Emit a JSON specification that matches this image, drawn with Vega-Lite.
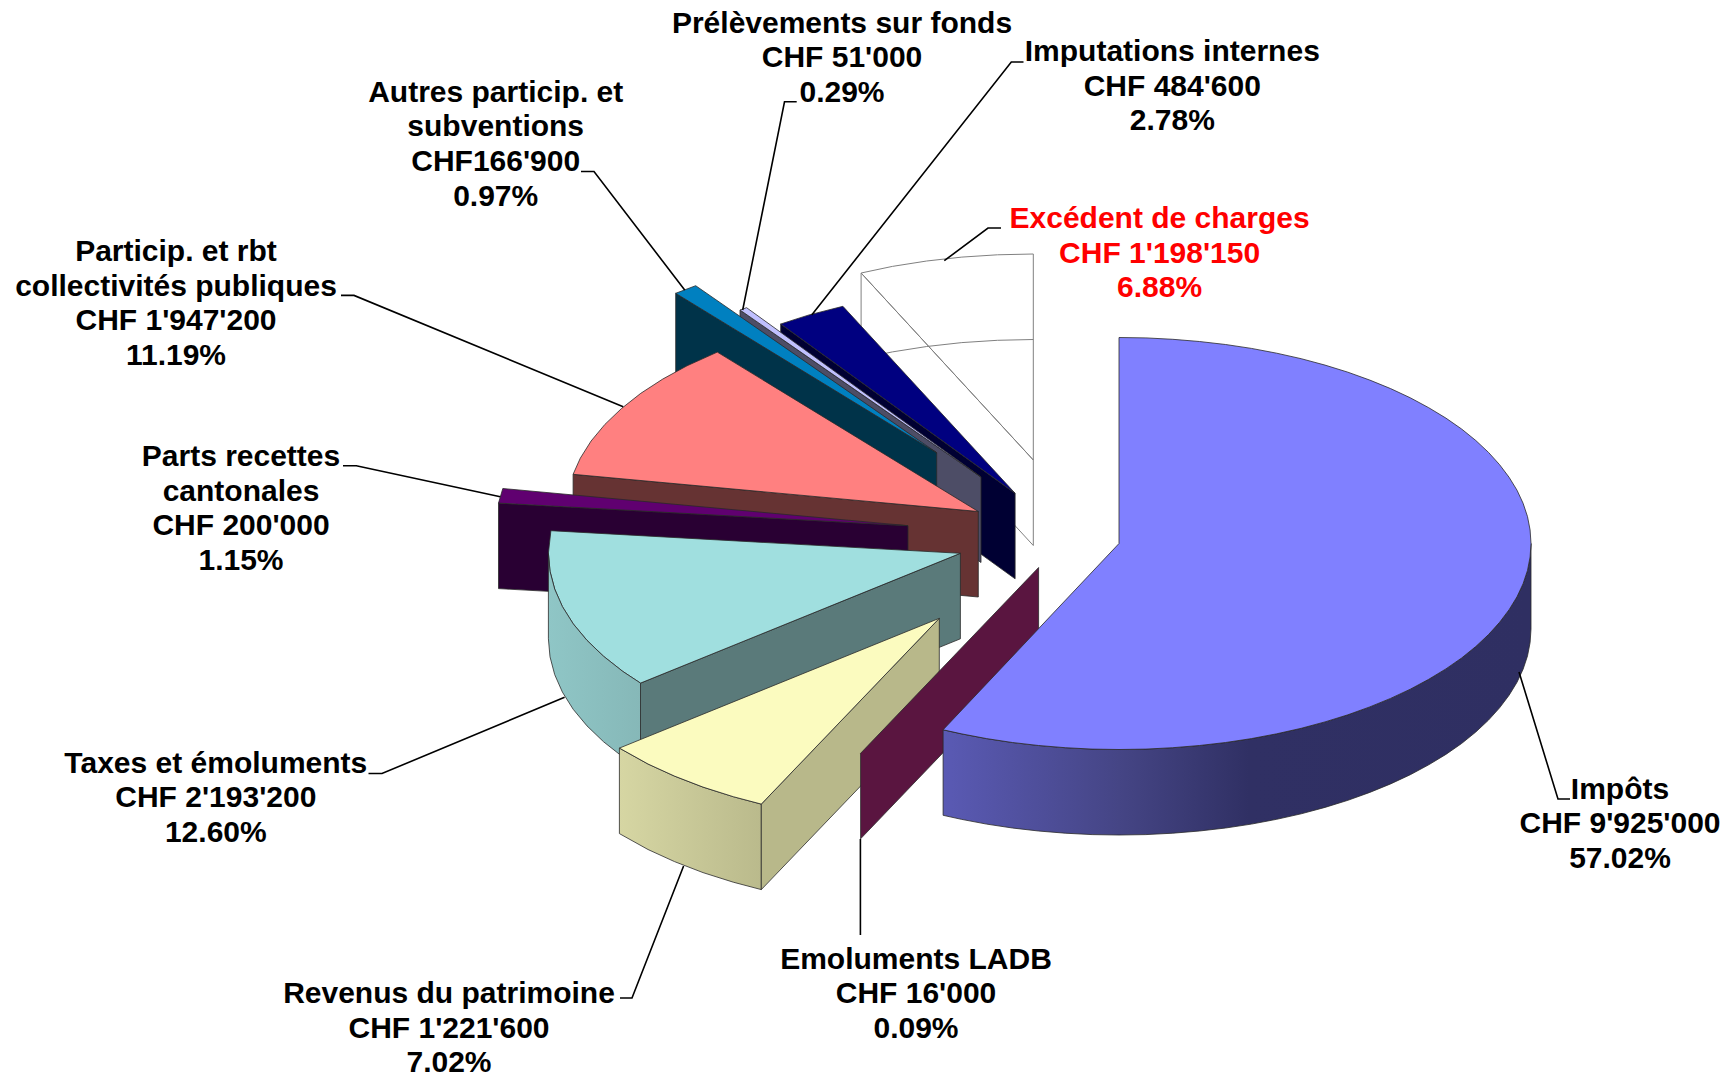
{
"$schema":"https://vega.github.io/schema/vega-lite/v6.json",
"width":1735,"height":1078,"padding":0,"autosize":{"type":"none"},
"background":"#ffffff",
"config":{"view":{"stroke":null}},
"datasets":{
"excedent":[
{"piece":"Excédent coupe","i":0,"x":861.1,"y":273},{"piece":"Excédent coupe","i":1,"x":861.1,"y":358.5},{"piece":"Excédent coupe","i":2,"x":1033.3,"y":545.5},{"piece":"Excédent coupe","i":3,"x":1033.3,"y":460},{"piece":"Excédent coupe","i":4,"x":861.1,"y":273},
{"piece":"Excédent dessus","i":0,"x":1033.3,"y":460},{"piece":"Excédent dessus","i":1,"x":861.1,"y":273},{"piece":"Excédent dessus","i":2,"x":892.4,"y":266.4},{"piece":"Excédent dessus","i":3,"x":926.7,"y":261},{"piece":"Excédent dessus","i":4,"x":961.8,"y":257.1},{"piece":"Excédent dessus","i":5,"x":997.4,"y":254.8},{"piece":"Excédent dessus","i":6,"x":1033.3,"y":254},{"piece":"Excédent dessus","i":7,"x":1033.3,"y":460},
{"piece":"Excédent côté","i":0,"x":861.1,"y":358.5},{"piece":"Excédent côté","i":1,"x":892.4,"y":351.9},{"piece":"Excédent côté","i":2,"x":926.7,"y":346.5},{"piece":"Excédent côté","i":3,"x":961.8,"y":342.6},{"piece":"Excédent côté","i":4,"x":997.4,"y":340.3},{"piece":"Excédent côté","i":5,"x":1033.3,"y":339.5}
],
"faces_arriere":[
{"piece":"Imputations coupe","i":0,"x":780.7,"y":324},{"piece":"Imputations coupe","i":1,"x":1015.1,"y":493.3},{"piece":"Imputations coupe","i":2,"x":1015.1,"y":578.8},{"piece":"Imputations coupe","i":3,"x":780.7,"y":409.5},{"piece":"Imputations coupe","i":4,"x":780.7,"y":324},
{"piece":"Imputations dessus","i":0,"x":1015.1,"y":493.3},{"piece":"Imputations dessus","i":1,"x":780.7,"y":324},{"piece":"Imputations dessus","i":2,"x":809.1,"y":314.9},{"piece":"Imputations dessus","i":3,"x":842.9,"y":306.3},{"piece":"Imputations dessus","i":4,"x":1015.1,"y":493.3},
{"piece":"Prélèvements coupe","i":0,"x":740,"y":310},{"piece":"Prélèvements coupe","i":1,"x":981,"y":477},{"piece":"Prélèvements coupe","i":2,"x":981,"y":562.5},{"piece":"Prélèvements coupe","i":3,"x":740,"y":395.5},{"piece":"Prélèvements coupe","i":4,"x":740,"y":310},
{"piece":"Prélèvements dessus","i":0,"x":981,"y":477},{"piece":"Prélèvements dessus","i":1,"x":740,"y":310},{"piece":"Prélèvements dessus","i":2,"x":746.6,"y":307.7},{"piece":"Prélèvements dessus","i":3,"x":981,"y":477},
{"piece":"Autres coupe","i":0,"x":675.7,"y":293.3},{"piece":"Autres coupe","i":1,"x":936.7,"y":452.7},{"piece":"Autres coupe","i":2,"x":936.7,"y":538.2},{"piece":"Autres coupe","i":3,"x":675.7,"y":378.8},{"piece":"Autres coupe","i":4,"x":675.7,"y":293.3},
{"piece":"Autres dessus","i":0,"x":936.7,"y":452.7},{"piece":"Autres dessus","i":1,"x":675.7,"y":293.3},{"piece":"Autres dessus","i":2,"x":695.7,"y":285.7},{"piece":"Autres dessus","i":3,"x":936.7,"y":452.7},
{"piece":"Particip coupe","i":0,"x":573.1,"y":474.3},{"piece":"Particip coupe","i":1,"x":978.3,"y":511.5},{"piece":"Particip coupe","i":2,"x":978.3,"y":597},{"piece":"Particip coupe","i":3,"x":573.1,"y":559.8},{"piece":"Particip coupe","i":4,"x":573.1,"y":474.3},
{"piece":"Particip dessus","i":0,"x":978.3,"y":511.5},{"piece":"Particip dessus","i":1,"x":573.1,"y":474.3},{"piece":"Particip dessus","i":2,"x":580.3,"y":458.2},{"piece":"Particip dessus","i":3,"x":591.1,"y":441},{"piece":"Particip dessus","i":4,"x":604.9,"y":424.4},{"piece":"Particip dessus","i":5,"x":621.5,"y":408.5},{"piece":"Particip dessus","i":6,"x":640.8,"y":393.3},{"piece":"Particip dessus","i":7,"x":662.7,"y":379.1},{"piece":"Particip dessus","i":8,"x":687,"y":365.8},{"piece":"Particip dessus","i":9,"x":717.3,"y":352.1},{"piece":"Particip dessus","i":10,"x":978.3,"y":511.5},
{"piece":"Parts coupe","i":0,"x":498.5,"y":503.1},{"piece":"Parts coupe","i":1,"x":908,"y":525.7},{"piece":"Parts coupe","i":2,"x":908,"y":611.2},{"piece":"Parts coupe","i":3,"x":498.5,"y":588.6},{"piece":"Parts coupe","i":4,"x":498.5,"y":503.1},
{"piece":"Parts dessus","i":0,"x":908,"y":525.7},{"piece":"Parts dessus","i":1,"x":498.5,"y":503.1},{"piece":"Parts dessus","i":2,"x":502.8,"y":488.5},{"piece":"Parts dessus","i":3,"x":908,"y":525.7},
{"piece":"Taxes coupe","i":0,"x":640.5,"y":683.1},{"piece":"Taxes coupe","i":1,"x":960.4,"y":553.3},{"piece":"Taxes coupe","i":2,"x":960.4,"y":638.8},{"piece":"Taxes coupe","i":3,"x":640.5,"y":768.6},{"piece":"Taxes coupe","i":4,"x":640.5,"y":683.1},
{"piece":"Taxes dessus","i":0,"x":960.4,"y":553.3},{"piece":"Taxes dessus","i":1,"x":640.5,"y":683.1},{"piece":"Taxes dessus","i":2,"x":622.9,"y":671.5},{"piece":"Taxes dessus","i":3,"x":603.6,"y":656.3},{"piece":"Taxes dessus","i":4,"x":587,"y":640.4},{"piece":"Taxes dessus","i":5,"x":573.2,"y":623.8},{"piece":"Taxes dessus","i":6,"x":562.4,"y":606.6},{"piece":"Taxes dessus","i":7,"x":554.7,"y":589.1},{"piece":"Taxes dessus","i":8,"x":550,"y":571.3},{"piece":"Taxes dessus","i":9,"x":548.4,"y":553.3},{"piece":"Taxes dessus","i":10,"x":550.9,"y":530.7},{"piece":"Taxes dessus","i":11,"x":960.4,"y":553.3}
],
"cote_taxes":[
{"piece":"Taxes côté","i":0,"x":640.5,"y":683.1},{"piece":"Taxes côté","i":1,"x":622.9,"y":671.5},{"piece":"Taxes côté","i":2,"x":603.6,"y":656.3},{"piece":"Taxes côté","i":3,"x":587,"y":640.4},{"piece":"Taxes côté","i":4,"x":573.2,"y":623.8},{"piece":"Taxes côté","i":5,"x":562.4,"y":606.6},{"piece":"Taxes côté","i":6,"x":554.7,"y":589.1},{"piece":"Taxes côté","i":7,"x":550,"y":571.3},{"piece":"Taxes côté","i":8,"x":548.4,"y":553.3},{"piece":"Taxes côté","i":9,"x":548.4,"y":638.8},{"piece":"Taxes côté","i":10,"x":550,"y":656.8},{"piece":"Taxes côté","i":11,"x":554.7,"y":674.6},{"piece":"Taxes côté","i":12,"x":562.4,"y":692.1},{"piece":"Taxes côté","i":13,"x":573.2,"y":709.3},{"piece":"Taxes côté","i":14,"x":587,"y":725.9},{"piece":"Taxes côté","i":15,"x":603.6,"y":741.8},{"piece":"Taxes côté","i":16,"x":622.9,"y":757},{"piece":"Taxes côté","i":17,"x":640.5,"y":768.6},{"piece":"Taxes côté","i":18,"x":640.5,"y":683.1}
],
"cote_revenus":[
{"piece":"Revenus côté","i":0,"x":761.3,"y":804.1},{"piece":"Revenus côté","i":1,"x":733.3,"y":796.7},{"piece":"Revenus côté","i":2,"x":703,"y":787.1},{"piece":"Revenus côté","i":3,"x":674.5,"y":776.1},{"piece":"Revenus côté","i":4,"x":648,"y":764},{"piece":"Revenus côté","i":5,"x":619.4,"y":748.1},{"piece":"Revenus côté","i":6,"x":619.4,"y":833.6},{"piece":"Revenus côté","i":7,"x":648,"y":849.5},{"piece":"Revenus côté","i":8,"x":674.5,"y":861.6},{"piece":"Revenus côté","i":9,"x":703,"y":872.6},{"piece":"Revenus côté","i":10,"x":733.3,"y":882.2},{"piece":"Revenus côté","i":11,"x":761.3,"y":889.6},{"piece":"Revenus côté","i":12,"x":761.3,"y":804.1}
],
"faces_avant":[
{"piece":"Revenus coupe","i":0,"x":761.3,"y":804.1},{"piece":"Revenus coupe","i":1,"x":939.3,"y":618.3},{"piece":"Revenus coupe","i":2,"x":939.3,"y":704},{"piece":"Revenus coupe","i":3,"x":761.3,"y":889.6},{"piece":"Revenus coupe","i":4,"x":761.3,"y":804.1},
{"piece":"Revenus dessus","i":0,"x":939.3,"y":618.3},{"piece":"Revenus dessus","i":1,"x":761.3,"y":804.1},{"piece":"Revenus dessus","i":2,"x":733.3,"y":796.7},{"piece":"Revenus dessus","i":3,"x":703,"y":787.1},{"piece":"Revenus dessus","i":4,"x":674.5,"y":776.1},{"piece":"Revenus dessus","i":5,"x":648,"y":764},{"piece":"Revenus dessus","i":6,"x":619.4,"y":748.1},{"piece":"Revenus dessus","i":7,"x":939.3,"y":618.3},
{"piece":"Emoluments coupe","i":0,"x":860.6,"y":753.3},{"piece":"Emoluments coupe","i":1,"x":1038.6,"y":567.5},{"piece":"Emoluments coupe","i":2,"x":1038.6,"y":653},{"piece":"Emoluments coupe","i":3,"x":860.6,"y":838.8},{"piece":"Emoluments coupe","i":4,"x":860.6,"y":753.3}
],
"cote_impots":[
{"piece":"Impôts côté","i":0,"x":1531,"y":543.5},{"piece":"Impôts côté","i":0.5,"x":1530.1,"y":557},{"piece":"Impôts côté","i":1,"x":1527.5,"y":570.4},{"piece":"Impôts côté","i":1.5,"x":1523.1,"y":583.7},{"piece":"Impôts côté","i":2,"x":1517,"y":596.8},{"piece":"Impôts côté","i":2.5,"x":1509.1,"y":609.7},{"piece":"Impôts côté","i":3,"x":1499.6,"y":622.3},{"piece":"Impôts côté","i":3.5,"x":1488.5,"y":634.6},{"piece":"Impôts côté","i":4,"x":1475.8,"y":646.5},{"piece":"Impôts côté","i":4.5,"x":1461.6,"y":658},{"piece":"Impôts côté","i":5,"x":1445.9,"y":668.9},{"piece":"Impôts côté","i":5.5,"x":1428.7,"y":679.3},{"piece":"Impôts côté","i":6,"x":1410.3,"y":689.2},{"piece":"Impôts côté","i":6.5,"x":1390.6,"y":698.4},{"piece":"Impôts côté","i":7,"x":1369.8,"y":706.9},{"piece":"Impôts côté","i":7.5,"x":1347.9,"y":714.8},{"piece":"Impôts côté","i":8,"x":1325,"y":721.9},{"piece":"Impôts côté","i":8.5,"x":1301.2,"y":728.3},{"piece":"Impôts côté","i":9,"x":1276.7,"y":733.8},{"piece":"Impôts côté","i":9.5,"x":1251.4,"y":738.6},{"piece":"Impôts côté","i":10,"x":1225.6,"y":742.5},{"piece":"Impôts côté","i":10.5,"x":1199.4,"y":745.5},{"piece":"Impôts côté","i":11,"x":1172.8,"y":747.7},{"piece":"Impôts côté","i":11.5,"x":1145.9,"y":749.1},{"piece":"Impôts côté","i":12,"x":1119,"y":749.5},{"piece":"Impôts côté","i":12.5,"x":1092.1,"y":749.1},{"piece":"Impôts côté","i":13,"x":1065.2,"y":747.7},{"piece":"Impôts côté","i":13.5,"x":1038.6,"y":745.5},{"piece":"Impôts côté","i":14,"x":1012.4,"y":742.5},{"piece":"Impôts côté","i":14.5,"x":986.6,"y":738.6},{"piece":"Impôts côté","i":15,"x":961.3,"y":733.8},{"piece":"Impôts côté","i":16,"x":943.1,"y":729.8},{"piece":"Impôts côté","i":17,"x":943.1,"y":815.3},{"piece":"Impôts côté","i":18,"x":961.3,"y":819.3},{"piece":"Impôts côté","i":18.5,"x":986.6,"y":824.1},{"piece":"Impôts côté","i":19,"x":1012.4,"y":828},{"piece":"Impôts côté","i":19.5,"x":1038.6,"y":831},{"piece":"Impôts côté","i":20,"x":1065.2,"y":833.2},{"piece":"Impôts côté","i":20.5,"x":1092.1,"y":834.6},{"piece":"Impôts côté","i":21,"x":1119,"y":835},{"piece":"Impôts côté","i":21.5,"x":1145.9,"y":834.6},{"piece":"Impôts côté","i":22,"x":1172.8,"y":833.2},{"piece":"Impôts côté","i":22.5,"x":1199.4,"y":831},{"piece":"Impôts côté","i":23,"x":1225.6,"y":828},{"piece":"Impôts côté","i":23.5,"x":1251.4,"y":824.1},{"piece":"Impôts côté","i":24,"x":1276.7,"y":819.3},{"piece":"Impôts côté","i":24.5,"x":1301.2,"y":813.8},{"piece":"Impôts côté","i":25,"x":1325,"y":807.4},{"piece":"Impôts côté","i":25.5,"x":1347.9,"y":800.3},{"piece":"Impôts côté","i":26,"x":1369.8,"y":792.4},{"piece":"Impôts côté","i":26.5,"x":1390.6,"y":783.9},{"piece":"Impôts côté","i":27,"x":1410.3,"y":774.7},{"piece":"Impôts côté","i":27.5,"x":1428.7,"y":764.8},{"piece":"Impôts côté","i":28,"x":1445.9,"y":754.4},{"piece":"Impôts côté","i":28.5,"x":1461.6,"y":743.5},{"piece":"Impôts côté","i":29,"x":1475.8,"y":732},{"piece":"Impôts côté","i":29.5,"x":1488.5,"y":720.1},{"piece":"Impôts côté","i":30,"x":1499.6,"y":707.8},{"piece":"Impôts côté","i":30.5,"x":1509.1,"y":695.2},{"piece":"Impôts côté","i":31,"x":1517,"y":682.3},{"piece":"Impôts côté","i":31.5,"x":1523.1,"y":669.2},{"piece":"Impôts côté","i":32,"x":1527.5,"y":655.9},{"piece":"Impôts côté","i":32.5,"x":1530.1,"y":642.5},{"piece":"Impôts côté","i":33,"x":1531,"y":629},{"piece":"Impôts côté","i":34,"x":1531,"y":543.5}
],
"dessus_impots":[
{"piece":"Impôts dessus","i":0,"x":1119,"y":543.5},{"piece":"Impôts dessus","i":1,"x":1119,"y":337.5},{"piece":"Impôts dessus","i":1.5,"x":1145.9,"y":337.9},{"piece":"Impôts dessus","i":2,"x":1172.8,"y":339.3},{"piece":"Impôts dessus","i":2.5,"x":1199.4,"y":341.5},{"piece":"Impôts dessus","i":3,"x":1225.6,"y":344.5},{"piece":"Impôts dessus","i":3.5,"x":1251.4,"y":348.4},{"piece":"Impôts dessus","i":4,"x":1276.7,"y":353.2},{"piece":"Impôts dessus","i":4.5,"x":1301.2,"y":358.7},{"piece":"Impôts dessus","i":5,"x":1325,"y":365.1},{"piece":"Impôts dessus","i":5.5,"x":1347.9,"y":372.2},{"piece":"Impôts dessus","i":6,"x":1369.8,"y":380.1},{"piece":"Impôts dessus","i":6.5,"x":1390.6,"y":388.6},{"piece":"Impôts dessus","i":7,"x":1410.3,"y":397.8},{"piece":"Impôts dessus","i":7.5,"x":1428.7,"y":407.7},{"piece":"Impôts dessus","i":8,"x":1445.9,"y":418.1},{"piece":"Impôts dessus","i":8.5,"x":1461.6,"y":429},{"piece":"Impôts dessus","i":9,"x":1475.8,"y":440.5},{"piece":"Impôts dessus","i":9.5,"x":1488.5,"y":452.4},{"piece":"Impôts dessus","i":10,"x":1499.6,"y":464.7},{"piece":"Impôts dessus","i":10.5,"x":1509.1,"y":477.3},{"piece":"Impôts dessus","i":11,"x":1517,"y":490.2},{"piece":"Impôts dessus","i":11.5,"x":1523.1,"y":503.3},{"piece":"Impôts dessus","i":12,"x":1527.5,"y":516.6},{"piece":"Impôts dessus","i":12.5,"x":1530.1,"y":530},{"piece":"Impôts dessus","i":13,"x":1531,"y":543.5},{"piece":"Impôts dessus","i":13.5,"x":1530.1,"y":557},{"piece":"Impôts dessus","i":14,"x":1527.5,"y":570.4},{"piece":"Impôts dessus","i":14.5,"x":1523.1,"y":583.7},{"piece":"Impôts dessus","i":15,"x":1517,"y":596.8},{"piece":"Impôts dessus","i":15.5,"x":1509.1,"y":609.7},{"piece":"Impôts dessus","i":16,"x":1499.6,"y":622.3},{"piece":"Impôts dessus","i":16.5,"x":1488.5,"y":634.6},{"piece":"Impôts dessus","i":17,"x":1475.8,"y":646.5},{"piece":"Impôts dessus","i":17.5,"x":1461.6,"y":658},{"piece":"Impôts dessus","i":18,"x":1445.9,"y":668.9},{"piece":"Impôts dessus","i":18.5,"x":1428.7,"y":679.3},{"piece":"Impôts dessus","i":19,"x":1410.3,"y":689.2},{"piece":"Impôts dessus","i":19.5,"x":1390.6,"y":698.4},{"piece":"Impôts dessus","i":20,"x":1369.8,"y":706.9},{"piece":"Impôts dessus","i":20.5,"x":1347.9,"y":714.8},{"piece":"Impôts dessus","i":21,"x":1325,"y":721.9},{"piece":"Impôts dessus","i":21.5,"x":1301.2,"y":728.3},{"piece":"Impôts dessus","i":22,"x":1276.7,"y":733.8},{"piece":"Impôts dessus","i":22.5,"x":1251.4,"y":738.6},{"piece":"Impôts dessus","i":23,"x":1225.6,"y":742.5},{"piece":"Impôts dessus","i":23.5,"x":1199.4,"y":745.5},{"piece":"Impôts dessus","i":24,"x":1172.8,"y":747.7},{"piece":"Impôts dessus","i":24.5,"x":1145.9,"y":749.1},{"piece":"Impôts dessus","i":25,"x":1119,"y":749.5},{"piece":"Impôts dessus","i":25.5,"x":1092.1,"y":749.1},{"piece":"Impôts dessus","i":26,"x":1065.2,"y":747.7},{"piece":"Impôts dessus","i":26.5,"x":1038.6,"y":745.5},{"piece":"Impôts dessus","i":27,"x":1012.4,"y":742.5},{"piece":"Impôts dessus","i":27.5,"x":986.6,"y":738.6},{"piece":"Impôts dessus","i":28,"x":961.3,"y":733.8},{"piece":"Impôts dessus","i":29,"x":943.1,"y":729.8},{"piece":"Impôts dessus","i":30,"x":1119,"y":543.5}
],
"renvois":[
{"poste":"Impôts","i":0,"x":1519,"y":672},{"poste":"Impôts","i":1,"x":1558,"y":799},{"poste":"Impôts","i":2,"x":1570,"y":799},
{"poste":"Emoluments","i":0,"x":860.4,"y":839},{"poste":"Emoluments","i":1,"x":860.4,"y":935},
{"poste":"Revenus","i":0,"x":683.6,"y":866},{"poste":"Revenus","i":1,"x":632,"y":998},{"poste":"Revenus","i":2,"x":620,"y":998},
{"poste":"Taxes","i":0,"x":564.6,"y":697.3},{"poste":"Taxes","i":1,"x":382,"y":773.5},{"poste":"Taxes","i":2,"x":368.5,"y":773.5},
{"poste":"Parts","i":0,"x":500.3,"y":496.7},{"poste":"Parts","i":1,"x":356.3,"y":465.8},{"poste":"Parts","i":2,"x":343,"y":465.8},
{"poste":"Particip","i":0,"x":623.2,"y":406.7},{"poste":"Particip","i":1,"x":354,"y":295.4},{"poste":"Particip","i":2,"x":341,"y":295.4},
{"poste":"Autres","i":0,"x":684.7,"y":290},{"poste":"Autres","i":1,"x":594,"y":171.5},{"poste":"Autres","i":2,"x":581,"y":171.5},
{"poste":"Prélèvements","i":0,"x":742.7,"y":310},{"poste":"Prélèvements","i":1,"x":784.5,"y":101.8},{"poste":"Prélèvements","i":2,"x":796.7,"y":101.8},
{"poste":"Imputations","i":0,"x":811.7,"y":315},{"poste":"Imputations","i":1,"x":1011.3,"y":62},{"poste":"Imputations","i":2,"x":1023.5,"y":62},
{"poste":"Excédent","i":0,"x":944.3,"y":260.7},{"poste":"Excédent","i":1,"x":988,"y":228},{"poste":"Excédent","i":2,"x":1001,"y":228}
],
"etiquettes":[
{"poste":"Prélèvements","texte":"Prélèvements sur fonds\nCHF 51'000\n0.29%","x":842,"y":23.8},
{"poste":"Imputations","texte":"Imputations internes\nCHF 484'600\n2.78%","x":1172.3,"y":52},
{"poste":"Excédent","texte":"Excédent de charges\nCHF 1'198'150\n6.88%","x":1159.6,"y":219.1},
{"poste":"Autres","texte":"Autres particip. et\nsubventions\nCHF166'900\n0.97%","x":495.7,"y":92.9},
{"poste":"Particip","texte":"Particip. et rbt\ncollectivités publiques\nCHF 1'947'200\n11.19%","x":176,"y":252.1},
{"poste":"Parts","texte":"Parts recettes\ncantonales\nCHF 200'000\n1.15%","x":241,"y":457.1},
{"poste":"Taxes","texte":"Taxes et émoluments\nCHF 2'193'200\n12.60%","x":215.8,"y":763.8},
{"poste":"Revenus","texte":"Revenus du patrimoine\nCHF 1'221'600\n7.02%","x":449,"y":994.2},
{"poste":"Emoluments","texte":"Emoluments LADB\nCHF 16'000\n0.09%","x":916,"y":959.8},
{"poste":"Impôts","texte":"Impôts\nCHF 9'925'000\n57.02%","x":1620,"y":789.5}
]
},
"encoding":{
"x":{"field":"x","type":"quantitative","scale":{"domain":[0,1735],"nice":false,"zero":false},"axis":null},
"y":{"field":"y","type":"quantitative","scale":{"domain":[1078,0],"nice":false,"zero":false},"axis":null}
},
"layer":[
{"data":{"name":"excedent"},"mark":{"type":"line","stroke":"#808080","strokeWidth":1,"clip":false},"encoding":{"detail":{"field":"piece"},"order":{"field":"i","type":"quantitative"}}},
{"data":{"name":"faces_arriere"},"mark":{"type":"line","stroke":"#2a2a2a","strokeWidth":0.8},"encoding":{"detail":{"field":"piece"},"order":{"field":"i","type":"quantitative"},
"fill":{"field":"piece","type":"nominal","legend":null,"scale":{"domain":["Imputations coupe","Imputations dessus","Prélèvements coupe","Prélèvements dessus","Autres coupe","Autres dessus","Particip coupe","Particip dessus","Parts coupe","Parts dessus","Taxes coupe","Taxes dessus","Revenus coupe","Revenus dessus","Emoluments coupe"],"range":["#000033","#000080","#4d4d66","#c0c0ff","#003349","#0080c0","#663333","#ff8080","#290033","#600070","#5a7a7a","#a0dfdf","#b8b88a","#fbfbbf","#5a1540"]}}}},
{"data":{"name":"cote_taxes"},"mark":{"type":"line","stroke":"#2a2a2a","strokeWidth":0.8,"fill":{"gradient":"linear","x1":0,"y1":0,"x2":1,"y2":0,"stops":[{"offset":0,"color":"#8fc6c6"},{"offset":1,"color":"#86b8b8"}]}},"encoding":{"detail":{"field":"piece"},"order":{"field":"i","type":"quantitative"}}},
{"data":{"name":"cote_revenus"},"mark":{"type":"line","stroke":"#2a2a2a","strokeWidth":0.8,"fill":{"gradient":"linear","x1":0,"y1":0,"x2":1,"y2":0,"stops":[{"offset":0,"color":"#d6d6a3"},{"offset":1,"color":"#baba8c"}]}},"encoding":{"detail":{"field":"piece"},"order":{"field":"i","type":"quantitative"}}},
{"data":{"name":"faces_avant"},"mark":{"type":"line","stroke":"#2a2a2a","strokeWidth":0.8},"encoding":{"detail":{"field":"piece"},"order":{"field":"i","type":"quantitative"},
"fill":{"field":"piece","type":"nominal","legend":null,"scale":{"domain":["Imputations coupe","Imputations dessus","Prélèvements coupe","Prélèvements dessus","Autres coupe","Autres dessus","Particip coupe","Particip dessus","Parts coupe","Parts dessus","Taxes coupe","Taxes dessus","Revenus coupe","Revenus dessus","Emoluments coupe"],"range":["#000033","#000080","#4d4d66","#c0c0ff","#003349","#0080c0","#663333","#ff8080","#290033","#600070","#5a7a7a","#a0dfdf","#b8b88a","#fbfbbf","#5a1540"]}}}},
{"data":{"name":"cote_impots"},"mark":{"type":"line","stroke":"#2a2a2a","strokeWidth":0.8,"fill":{"gradient":"linear","x1":0,"y1":0,"x2":1,"y2":0,"stops":[{"offset":0,"color":"#5a5ab4"},{"offset":0.3,"color":"#454585"},{"offset":0.52,"color":"#303064"},{"offset":1,"color":"#2f2f62"}]}},"encoding":{"detail":{"field":"piece"},"order":{"field":"i","type":"quantitative"}}},
{"data":{"name":"dessus_impots"},"mark":{"type":"line","stroke":"#2a2a2a","strokeWidth":0.8,"fill":"#8080ff"},"encoding":{"detail":{"field":"piece"},"order":{"field":"i","type":"quantitative"}}},
{"data":{"name":"renvois"},"mark":{"type":"line","stroke":"#000000","strokeWidth":1.6},"encoding":{"detail":{"field":"poste"},"order":{"field":"i","type":"quantitative"}}},
{"data":{"name":"etiquettes"},"mark":{"type":"text","font":"Liberation Sans","fontWeight":"bold","fontSize":30,"lineHeight":34.6,"lineBreak":"\n","align":"center","baseline":"middle"},"encoding":{"text":{"field":"texte"},
"color":{"condition":{"test":"datum.poste==='Excédent'","value":"#ff0000"},"value":"#000000"}}}
]
}
